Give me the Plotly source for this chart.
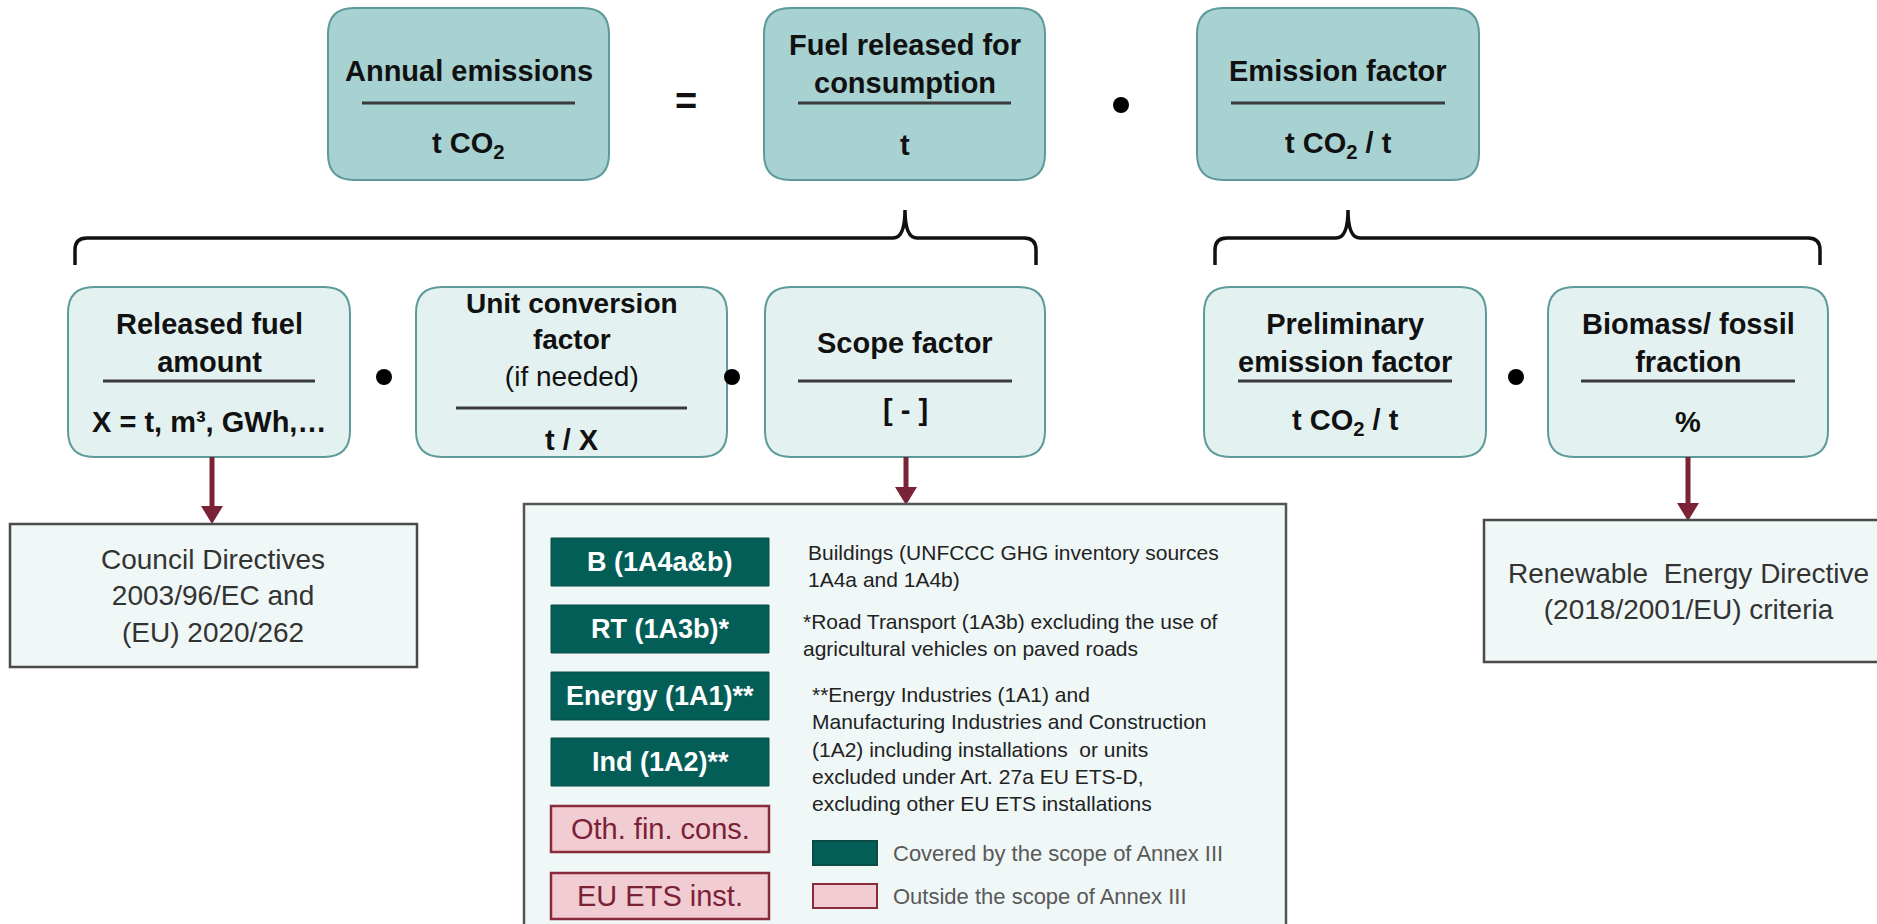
import plotly.graph_objects as go

# ---------------- content (text) ----------------
top_titles = ["Annual emissions", "Fuel released for<br>consumption", "Emission factor"]
top_units = ["t CO<sub>2</sub>", "t", "t CO<sub>2</sub> / t"]

mid_titles = ["Released fuel<br>amount", "Unit conversion<br>factor", "Scope factor",
              "Preliminary<br>emission factor", "Biomass/ fossil<br>fraction"]
mid_notes = ["", "(if needed)", "", "", ""]
mid_units = ["X = t, m³, GWh,…", "t / X", "[ - ]", "t CO<sub>2</sub> / t", "%"]

source_texts = ["Council Directives<br>2003/96/EC and<br>(EU) 2020/262",
                "Renewable  Energy Directive<br>(2018/2001/EU) criteria"]

sector_labels = ["B (1A4a&b)", "RT (1A3b)*", "Energy (1A1)**", "Ind (1A2)**",
                 "Oth. fin. cons.", "EU ETS inst."]
sector_in_scope = [True, True, True, True, False, False]

sector_notes = [
    "Buildings (UNFCCC GHG inventory sources<br>1A4a and 1A4b)",
    "*Road Transport (1A3b) excluding the use of<br>agricultural vehicles on paved roads",
    "**Energy Industries (1A1) and<br>Manufacturing Industries and Construction<br>"
    "(1A2) including installations  or units<br>excluded under Art. 27a EU ETS-D,<br>"
    "excluding other EU ETS installations",
]
legend_labels = ["Covered by the scope of Annex III", "Outside the scope of Annex III"]

# ---------------- layout (positions / styles) ----------------
W, H = 1877, 924
FONT = "Liberation Sans, Arial, sans-serif"

TOP_FILL, TOP_EDGE = "#A7D2D1", "#5E9A99"
MID_FILL, MID_EDGE = "#E3F1F0", "#5E9A99"
SRC_FILL, SRC_EDGE = "#EFF7F7", "#4A4A4A"
GREEN, PINK, PINK_EDGE = "#045E58", "#F2CCD3", "#8A2A3D"
ARROW = "#7A2236"
SEP = "#3A3A3A"

TOP_BOX_X = [(328, 609), (764, 1045), (1197, 1479)]
TOP_Y = (8, 180)
TOP_TITLE_Y = [71, 64, 71]
TOP_SEP_Y, TOP_UNIT_Y, TOP_INSET = 103, 145, 34

MID_BOX_X = [(68, 350), (416, 727), (765, 1045), (1204, 1486), (1548, 1828)]
MID_Y = (287, 457)
MID_TITLE_Y = [343, 340, 343, 343, 343]
MID_SEP_Y = [381, 408, 381, 381, 381]
MID_UNIT_Y = [422, 440, 410, 422, 422]
MID_INSET = [35, 40, 33, 34, 33]

shapes = []
ann = []


def rrect(x0, y0, x1, y1, r):
    return (f"M{x0 + r},{y0} L{x1 - r},{y0} Q{x1},{y0} {x1},{y0 + r} "
            f"L{x1},{y1 - r} Q{x1},{y1} {x1 - r},{y1} L{x0 + r},{y1} "
            f"Q{x0},{y1} {x0},{y1 - r} L{x0},{y0 + r} Q{x0},{y0} {x0 + r},{y0} Z")


def text(x, y, t, size, color="#111111", xanchor="center", align="center", yanchor="middle"):
    ann.append(dict(x=x, y=y, xref="x", yref="y", text=t, showarrow=False,
                    xanchor=xanchor, yanchor=yanchor, align=align,
                    font=dict(family=FONT, size=size, color=color)))


def hline(x0, x1, y, color=SEP, width=3):
    shapes.append(dict(type="line", x0=x0, x1=x1, y0=y, y1=y, xref="x", yref="y",
                       line=dict(color=color, width=width)))


def dot(x, y, r=8):
    shapes.append(dict(type="circle", x0=x - r, x1=x + r, y0=y - r, y1=y + r,
                       xref="x", yref="y", fillcolor="#000000", line=dict(width=0)))


def arrow(x, y0, y1):
    hh, hw = 18, 11
    shapes.append(dict(type="line", x0=x, x1=x, y0=y0, y1=y1 - hh + 2, xref="x", yref="y",
                       line=dict(color=ARROW, width=5)))
    shapes.append(dict(type="path", path=f"M{x - hw},{y1 - hh} L{x + hw},{y1 - hh} L{x},{y1} Z",
                       xref="x", yref="y", fillcolor=ARROW, line=dict(width=0)))


# top row
for (x0, x1), t, u, ty in zip(TOP_BOX_X, top_titles, top_units, TOP_TITLE_Y):
    shapes.append(dict(type="path", path=rrect(x0, TOP_Y[0], x1, TOP_Y[1], 26), xref="x", yref="y",
                       fillcolor=TOP_FILL, line=dict(color=TOP_EDGE, width=2)))
    cx = (x0 + x1) / 2
    text(cx, ty, f"<b>{t}</b>".replace("<br>", "</b><br><b>"), 29)
    hline(x0 + TOP_INSET, x1 - TOP_INSET, TOP_SEP_Y)
    text(cx, TOP_UNIT_Y, f"<b>{u}</b>", 29)

text(686, 101, "<b>=</b>", 38)
dot(1121, 105)

# braces
def brace(xl, xp, xr, yh=238, yb=265, ytop=210, r=12):
    return (f"M{xl},{yb} L{xl},{yh + r} Q{xl},{yh} {xl + r},{yh} L{xp - r},{yh} "
            f"Q{xp},{yh} {xp},{ytop} Q{xp},{yh} {xp + r},{yh} L{xr - r},{yh} "
            f"Q{xr},{yh} {xr},{yh + r} L{xr},{yb}")

for xl, xp, xr in [(75, 905, 1036), (1215, 1348, 1820)]:
    shapes.append(dict(type="path", path=brace(xl, xp, xr), xref="x", yref="y",
                       line=dict(color="#111111", width=3.5)))

# middle row
for i, ((x0, x1), t, n, u) in enumerate(zip(MID_BOX_X, mid_titles, mid_notes, mid_units)):
    shapes.append(dict(type="path", path=rrect(x0, MID_Y[0], x1, MID_Y[1], 26), xref="x", yref="y",
                       fillcolor=MID_FILL, line=dict(color=MID_EDGE, width=2)))
    cx = (x0 + x1) / 2
    body = f"<b>{t}</b>".replace("<br>", "</b><br><b>")
    if n:
        body += f"<br>{n}"
    text(cx, MID_TITLE_Y[i], body, 29 if not n else 28)
    hline(x0 + MID_INSET[i], x1 - MID_INSET[i], MID_SEP_Y[i])
    text(cx, MID_UNIT_Y[i], f"<b>{u}</b>", 29)

for x in (384, 732, 1516):
    dot(x, 377)

# arrows
arrow(212, 457, 524)
arrow(906, 457, 505)
arrow(1688, 457, 521)

# source boxes
shapes.append(dict(type="rect", x0=10, x1=417, y0=524, y1=667, xref="x", yref="y",
                   fillcolor=SRC_FILL, line=dict(color=SRC_EDGE, width=2.5)))
text(213, 596, source_texts[0], 28, color="#333333")
shapes.append(dict(type="rect", x0=1484, x1=1895, y0=520, y1=662, xref="x", yref="y",
                   fillcolor=SRC_FILL, line=dict(color=SRC_EDGE, width=2.5)))
text(1688, 591, source_texts[1], 28, color="#333333")

# scope detail box
shapes.append(dict(type="rect", x0=524, x1=1286, y0=504, y1=950, xref="x", yref="y",
                   fillcolor=SRC_FILL, line=dict(color="#555555", width=2.5)))

SECT_X = (551, 769)
SECT_Y = [562, 629, 696, 762, 829, 896]
for lab, ins, yc in zip(sector_labels, sector_in_scope, SECT_Y):
    if ins:
        shapes.append(dict(type="rect", x0=SECT_X[0], x1=SECT_X[1], y0=yc - 24, y1=yc + 24,
                           xref="x", yref="y", fillcolor=GREEN, line=dict(color="#0A4D47", width=1)))
        text(660, yc, f"<b>{lab}</b>", 27, color="#FFFFFF")
    else:
        shapes.append(dict(type="rect", x0=SECT_X[0], x1=SECT_X[1], y0=yc - 23, y1=yc + 23,
                           xref="x", yref="y", fillcolor=PINK, line=dict(color=PINK_EDGE, width=2.5)))
        text(660, yc, lab, 29, color="#7A2236")

NOTE_POS = [(806, 566), (801, 635), (810, 749)]
for (nx, ny), note in zip(NOTE_POS, sector_notes):
    text(nx, ny, note, 21, color="#222222", xanchor="left", align="left")

LEG_Y = [853, 896]
for lab, yc, fc, ec in zip(legend_labels, LEG_Y, [GREEN, PINK], ["#0A4D47", PINK_EDGE]):
    shapes.append(dict(type="rect", x0=813, x1=877, y0=yc - 12, y1=yc + 12, xref="x", yref="y",
                       fillcolor=fc, line=dict(color=ec, width=2)))
    text(891, yc, lab, 22, color="#595959", xanchor="left", align="left")

fig = go.Figure()
fig.update_layout(
    width=W, height=H, margin=dict(l=0, r=0, t=0, b=0),
    paper_bgcolor="#FFFFFF", plot_bgcolor="#FFFFFF",
    xaxis=dict(range=[0, W], visible=False, fixedrange=True),
    yaxis=dict(range=[H, 0], visible=False, fixedrange=True),
    shapes=shapes, annotations=ann, showlegend=False,
)
fig.write_html("out.html", config={"displayModeBar": False},
               post_script="document.body.style.margin='0';document.body.style.overflow='hidden';")
